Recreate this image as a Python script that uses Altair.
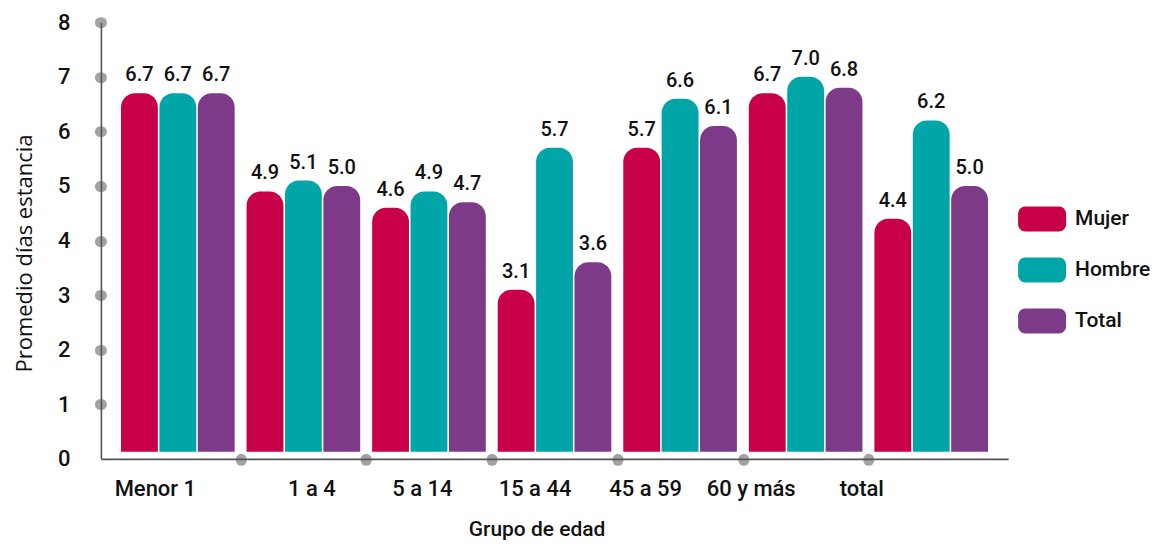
import altair as alt
import pandas as pd

grupos = ["Menor 1", "1 a 4", "5 a 14", "15 a 44", "45 a 59", "60 y más", "total"]
mujer = [6.7, 4.9, 4.6, 3.1, 5.7, 6.7, 4.4]
hombre = [6.7, 5.1, 4.9, 5.7, 6.6, 7.0, 6.2]
total = [6.7, 5.0, 4.7, 3.6, 6.1, 6.8, 5.0]
series = ["Mujer", "Hombre", "Total"]
colores = ["#C70047", "#00A5A8", "#7D3A89"]
BASE = 0.13

rows = []
for i, g in enumerate(grupos):
    for s, vals in zip(series, [mujer, hombre, total]):
        rows.append({"grupo": g, "serie": s, "valor": vals[i]})
df = pd.DataFrame(rows)

DIN = "Roboto"
W, H = 908, 437
PAD_IN, PAD_OUT = 0.095, 0.16
half_step = W / (len(grupos) - PAD_IN + 2 * PAD_OUT) / 2

label_shift = {"Menor 1": -23, "1 a 4": 8, "5 a 14": -7, "15 a 44": -20,
               "45 a 59": -35, "60 y más": -55, "total": -70}
offset_conditions = [{"test": f"datum.value === '{k}'", "value": v - half_step}
                     for k, v in label_shift.items()]

rounded = ("M-0.7,-0.52 L0.7,-0.52 A0.3,0.3 0 0 1 1,-0.22 L1,0.22 A0.3,0.3 0 0 1 0.7,0.52 "
           "L-0.7,0.52 A0.3,0.3 0 0 1 -1,0.22 L-1,-0.22 A0.3,0.3 0 0 1 -0.7,-0.52 Z")

x = alt.X("grupo:N", sort=grupos,
          scale=alt.Scale(paddingInner=PAD_IN, paddingOuter=PAD_OUT),
          axis=alt.Axis(title="Grupo de edad", labelAngle=0,
                        tickOffset=half_step,
                        tickCap="round", tickWidth=11, tickSize=1, tickColor="#A3A3A3",
                        tickOpacity={"condition": {"test": "datum.value === 'total'", "value": 0}, "value": 1},
                        domainColor="#555555", domainWidth=1.6,
                        labelFont=DIN, labelFontSize=22, labelFontWeight=500, labelColor="#111111",
                        labelPadding=19,
                        labelOffset={"condition": offset_conditions, "value": 0},
                        titleFont=DIN, titleFontSize=21, titleFontWeight=500, titleColor="#111111",
                        titlePadding=19, titleX=436, titleAlign="center"))
y_scale = alt.Scale(domain=[0, 8], nice=False)
color = alt.Color("serie:N", sort=series, scale=alt.Scale(domain=series, range=colores),
                  legend=alt.Legend(title=None, orient="none", legendX=918, legendY=173,
                                    symbolType=rounded, symbolSize=2304, symbolStrokeWidth=0,
                                    symbolOpacity=1, labelFont=DIN, labelFontSize=21,
                                    labelFontWeight=500, labelColor="#111111", labelOffset=9,
                                    rowPadding=14))

bars = alt.Chart(df).mark_bar(cornerRadiusTopLeft=14, cornerRadiusTopRight=14).encode(
    x=x,
    xOffset=alt.XOffset("serie:N", sort=series, scale=alt.Scale(paddingInner=0.04)),
    y=alt.Y("valor:Q", scale=y_scale,
            axis=alt.Axis(title="Promedio días estancia", values=[0, 1, 2, 3, 4, 5, 6, 7, 8],
                          grid=False, tickCap="round", tickWidth=11, tickSize=1,
                          tickColor="#A3A3A3",
                          tickOpacity={"condition": {"test": "datum.value === 0", "value": 0}, "value": 1},
                          domainColor="#555555", domainWidth=1.6,
                          labelFont=DIN, labelFontSize=22, labelFontWeight=500, labelColor="#111111",
                          labelPadding=30,
                          titleFont="Open Sans", titleFontSize=22, titleFontWeight="normal",
                          titleColor="#111111", titlePadding=21, titleY=231, titleAlign="center")),
    y2=alt.datum(BASE),
    color=color,
)

labels = alt.Chart(df).mark_text(font=DIN, fontSize=20, fontWeight=500, color="#111111",
                                 baseline="alphabetic", dy=-12).encode(
    x=alt.X("grupo:N", sort=grupos),
    xOffset=alt.XOffset("serie:N", sort=series),
    y=alt.Y("valor:Q", scale=y_scale),
    text=alt.Text("valor:Q", format=".1f"),
)

chart = alt.layer(bars, labels).properties(
    width=W, height=H,
    padding={"left": 5, "top": 3, "right": 2, "bottom": 5},
).configure_view(stroke=None)

chart.save("out.html", embed_options={"renderer": "svg", "actions": False})
